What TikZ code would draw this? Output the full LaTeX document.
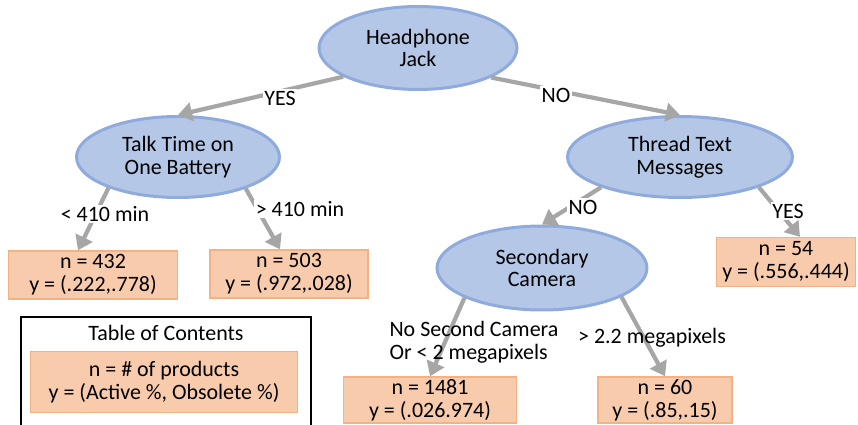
\documentclass[tikz,border=0pt]{standalone}
\usepackage{fontspec}
\setmainfont{Carlito}
\usetikzlibrary{shapes.geometric,arrows.meta}
\definecolor{nodofill}{RGB}{180,199,231}
\definecolor{nodoborde}{RGB}{143,170,220}
\definecolor{hojafill}{RGB}{248,203,173}
\definecolor{hojaborde}{RGB}{244,177,131}
\definecolor{flecha}{RGB}{166,166,166}
\tikzset{
	nodo/.style={ellipse,draw=nodoborde,fill=nodofill,line width=1.7pt,inner sep=0pt,align=center},
	hoja/.style={rectangle,draw=hojaborde,fill=hojafill,line width=0.8pt,inner sep=0pt,align=center},
	rama/.style={draw=flecha,line width=2.4pt,-{Triangle[width=10.5pt,length=8pt]}},
	etiq/.style={fill=white,inner sep=1pt}
}
\begin{document}
\begin{tikzpicture}[x=0.02cm,y=-0.02cm,font=\fontsize{12.5}{13}\selectfont]
		\useasboundingbox (0,0) rectangle (858,425);
		%Nodos
		\node[nodo,minimum width=3.96cm,minimum height=1.66cm] (hj) at (418,48) {Headphone\\Jack};
		\node[nodo,minimum width=4.06cm,minimum height=1.62cm] (tt) at (178,157) {Talk Time on\\One Battery};
		\node[nodo,minimum width=4.5cm,minimum height=1.62cm] (tm) at (680,157) {Thread Text\\Messages};
		\node[nodo,minimum width=4.2cm,minimum height=1.68cm] (sc) at (542,268) {Secondary\\Camera};
		%Hojas
		\node[hoja,minimum width=3.38cm,minimum height=0.96cm] (b432) at (93,275) {n = 432\\y = (.222,.778)};
		\node[hoja,minimum width=3.16cm,minimum height=0.96cm] (b503) at (289,274) {n = 503\\y = (.972,.028)};
		\node[hoja,minimum width=2.78cm,minimum height=0.98cm] (b54) at (786,262) {n = 54\\y = (.556,.444)};
		\node[hoja,minimum width=3.46cm,minimum height=0.92cm] (b1481) at (430,400) {n = 1481\\y = (.026.974)};
		\node[hoja,minimum width=2.68cm,minimum height=0.92cm] (b60) at (665,400) {n = 60\\y = (.85,.15)};
		%Tabla
		\node[draw=black,line width=1pt,fill=white,minimum width=5.8cm,minimum height=2.32cm] (toc) at (166,375) {};
		\node (toctit) at (166,333) {Table of Contents};
		\node[hoja,minimum width=5.34cm,minimum height=1.22cm] (tocin) at (164,382) {n = \# of products\\y = (Active \%, Obsolete \%)};
		%Ramas
		\draw[rama] (hj.201) -- (tt.north);
		\draw[rama] (hj.338) -- (tm.north);
		\draw[rama] (tt.204) -- ([xshift=-0.3cm]b432.north);
		\draw[rama] (tt.335) -- ([xshift=-0.18cm]b503.north);
		\draw[rama] (tm.201) -- (sc.north);
		\draw[rama] (tm.339) -- ([xshift=0.28cm]b54.north);
		\draw[rama] (sc.201) -- (b1481.north);
		\draw[rama] (sc.340) -- (b60.north);
		%Etiquetas
		\node[etiq] (lyes) at (280,98) {YES};
		\node[etiq] (lno) at (556,95) {NO};
		\node[etiq] (lmin) at (105,214) {< 410 min};
		\node[etiq] (lmax) at (300,209) {> 410 min};
		\node[etiq] (lno2) at (583,207) {NO};
		\node[etiq] (lyes2) at (788,211) {YES};
		\node[align=left] (lcam) at (474,342) {No Second Camera\\Or < 2 megapixels};
		\node (lmp) at (652,338) {> 2.2 megapixels};
\end{tikzpicture}
\end{document}
